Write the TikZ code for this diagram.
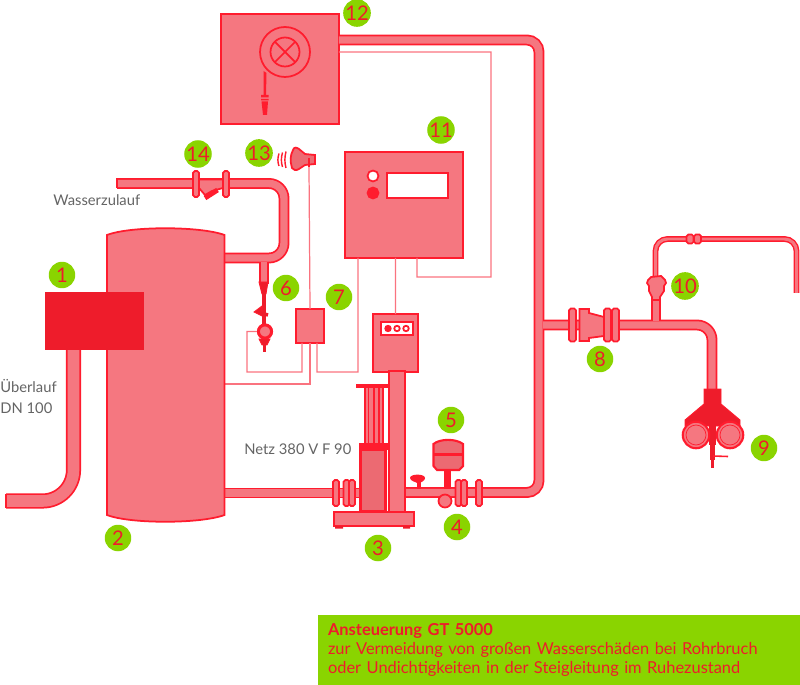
\documentclass[tikz,border=0pt]{standalone}
\usepackage{fontspec}
\setmainfont{Lato}
\usetikzlibrary{positioning, calc, shapes.geometric}
\definecolor{pipered}{RGB}{255,28,46}
\definecolor{pipepink}{RGB}{245,119,128}
\definecolor{pumppink}{RGB}{236,106,114}
\definecolor{solidred}{RGB}{238,28,43}
\definecolor{wirepink}{RGB}{250,115,127}
\definecolor{badgegreen}{RGB}{138,212,0}
\definecolor{labelgray}{RGB}{100,100,100}
\tikzset{
  pipe/.style={draw=pipered, double=pipepink, line width=1pt, double distance=4.2pt},
  thinpipe/.style={draw=pipered, double=pipepink, line width=0.8pt, double distance=1.7pt},
  wire/.style={draw=wirepink, line width=0.7pt},
  panel/.style={
    rectangle, draw=pipered, fill=pipepink, line width=1pt,
    inner sep=0pt, outer sep=0pt
  },
  vessel/.style={draw=pipered, fill=pipepink, line width=1pt},
  darkvessel/.style={draw=pipered, fill=pumppink, line width=1.2pt},
  solid part/.style={draw=pipered, fill=solidred, line width=0.5pt},
  flange/.style={
    panel, rounded corners=1pt, minimum width=0.12cm, minimum height=0.52cm
  },
  bigflange/.style={flange, minimum height=0.66cm, minimum width=0.14cm},
  dot/.style={circle, draw=pipered, line width=1pt, inner sep=0pt, outer sep=0pt},
  badge/.style={
    circle, fill=badgegreen, minimum size=0.53cm, inner sep=0pt,
    text=solidred, font=\fontsize{11.5}{12}\selectfont
  },
  caption/.style={
    text=labelgray, font=\fontsize{8.4}{12}\selectfont, inner sep=0pt, align=left
  },
  notebox/.style={
    rectangle, fill=badgegreen, minimum width=9.64cm, minimum height=1.4cm,
    text=solidred, inner xsep=0.2cm, inner ysep=0pt, text width=9.24cm, align=left,
    font=\fontsize{9.35}{10.9}\selectfont
  }
}

\begin{document}
\begin{tikzpicture}[x=0.02cm, y=-0.02cm]
  \useasboundingbox (0,0) rectangle (800,685);

  % Boxes
  \node[panel, minimum width=2.36cm, minimum height=2.2cm] (box12) at (280,69) {};
  \node[panel, minimum width=2.36cm, minimum height=2.12cm] (box11) at (404,205) {};
  \node[panel, minimum width=0.56cm, minimum height=0.68cm] (box7) at (310,326) {};
  \node[panel, minimum width=0.9cm, minimum height=1.16cm] (ctrl) at (395.5,343) {};
  \coordinate (horn) at (309,167);
  \coordinate (tankwire) at (224,384);
  \node[dot, fill=pipepink, line width=1.2pt, minimum size=0.28cm] (ball6) at (265,331.5) {};

  % Wires
  \draw[wire] ([yshift=-0.76cm]box12.north east) -- (491,52) -- (491,277) -- (417,277)
    -- ([xshift=1.44cm]box11.south west);
  \draw[wire] ([xshift=1.01cm]box11.south west) -- (ctrl.north);
  \draw[wire] ([xshift=0.26cm]box11.south west) -- (358,372) -- (317,372)
    -- ([xshift=0.14cm]box7.south);
  \draw[wire] (box7.north) -- (horn);
  \draw[wire] ([xshift=-0.16cm]box7.south) -- (302,372) -- (247,372) -- (247,331.5) -- (ball6.west);
  \draw[wire] (box7.south) -- (310,384) -- (tankwire);

  % Pipes
  \coordinate (overflow) at (73.5,345);
  \coordinate (tankin) at (224,258);
  \coordinate (tankout) at (224,493);
  \coordinate (riser) at (543,325);
  \draw[pipe, double distance=6.6pt, rounded corners=0.62cm] (overflow) -- (73.5,501) -- (6,501);
  \draw[pipered, line width=1pt] (6,494) -- (6,508);
  \draw[pipe, rounded corners=0.3cm] (117,183.5) -- (284,183.5) -- (284,258) -- (tankin);
  \draw[pipered, line width=1pt] (117,178.5) -- (117,188.5);
  \draw[pipe, double distance=3.2pt] (264,262) -- (264,284);
  \draw[pipe, rounded corners=0.24cm] (box12.east |- 0,40) -- (539,40) -- (539,492.5) -- (405,492.5);
  \draw[pipe] (tankout) -- (365,493);
  \draw[pipe, rounded corners=0.3cm] (riser) -- (712,325) -- (712,392);
  \draw[pipe, double distance=3.4pt] (656,321) -- (656,298);
  \draw[thinpipe, rounded corners=0.24cm] (655.5,277) -- (655.5,239) -- (796.5,239) -- (796.5,293);

  % Tank
  \path[vessel] (107,235) .. controls (130,226) and (200,226) .. (224.5,235) -- (224.5,515)
    .. controls (200,524) and (130,524) .. (107,515) -- cycle;
  \node[rectangle, fill=solidred, minimum width=1.98cm, minimum height=1.16cm,
    inner sep=0pt] (box1) at (94.5,321) {};

  % Panel details
  \node[dot, fill=pipepink, minimum size=1cm] (reel) at (285,52) {};
  \node[dot, fill=pipepink, minimum size=0.58cm] (reelhub) at (285,52) {};
  \draw[pipered, line width=1pt] (reelhub.north west) -- (reelhub.south east)
    (reelhub.north east) -- (reelhub.south west);
  \fill[pipered] (263.5,71) -- (266.5,73) -- (266,95) -- (263.5,95) -- cycle;
  \fill[pipered] (261,95) rectangle (268.5,97.5) (261,99) rectangle (268.5,100.5);
  \fill[pipered] (261.5,101.5) -- (268,101.5) -- (267,115) -- (263,115) -- cycle;
  \node[dot, fill=white, minimum size=0.22cm] (lampon) at (373,176) {};
  \node[dot, fill=pipered, minimum size=0.22cm] (lampoff) at (373,193) {};
  \node[panel, fill=white, minimum width=1.22cm, minimum height=0.5cm] (display) at (417.5,185.5) {};
  \node[panel, fill=white, minimum width=0.64cm, minimum height=0.26cm] (ctrldisplay) at (397,328.5) {};
  \node[dot, fill=pipered, minimum size=0.11cm] (led1) at (388,328.5) {};
  \node[dot, fill=white, minimum size=0.11cm] (led2) at (397,328.5) {};
  \node[dot, fill=white, minimum size=0.11cm] (led3) at (406,328.5) {};

  % Horn
  \path[darkvessel, line width=1pt] (293,150) .. controls (294,147) and (296,147) .. (299,149)
    -- (305,154) -- (315,155) -- (315,164) -- (305,165) -- (299,169)
    .. controls (296,171) and (293,170) .. (292,168) .. controls (290,161) and (290,156) .. (293,150) -- cycle;
  \draw[pipered, line width=1pt] (309,158) -- (horn);
  \draw[pipered, line width=0.8pt] (279,153.5) .. controls (277.5,158) and (277.5,162) .. (279,166)
    (282.5,152.5) .. controls (281,158) and (281,162) .. (282.5,167)
    (286,151.5) .. controls (284.5,158) and (284.5,162) .. (286,168);

  % Valve 14
  \path[vessel] (199,179.5) -- (223,179.5) -- (223,188) -- (212,191) -- (205,195) -- (199,188) -- cycle;
  \draw[pipered, line width=2.8pt] (205,198) -- (217.5,190);
  \node[flange] (fl14a) at (196,184) {};
  \node[flange] (fl14b) at (226,184) {};

  % Valve 6
  \path[solid part] (259,282) -- (268,282) -- (266,294) -- (262,294) -- cycle;
  \draw[solidred, line width=2.6pt] (264,293) -- (264,325);
  \path[solid part] (254,312) -- (262,306) -- (262,316) -- cycle;
  \draw[solidred, line width=2pt] (260,313) -- (268,315);
  \path[solid part] (259,339) -- (270,339) -- (267,345) -- (262,345) -- cycle;
  \draw[solidred, line width=1.6pt] (264.5,344) -- (264.5,352);
  \node[dot, fill=pipepink, line width=1.6pt, minimum size=0.26cm] at (265,331.5) {};

  % Pump
  \node[panel, minimum width=0.32cm, minimum height=2.84cm] (column) at (397,442) {};
  \node[panel, minimum width=1.6cm, minimum height=0.28cm] (base) at (374,519) {};
  \fill[pipered] (356,384) rectangle (389,387.5);
  \path[vessel, line width=0.8pt] (365,387) rectangle (383,444);
  \draw[pipered, line width=0.7pt] (368.5,387) -- (368.5,444) (374,387) -- (374,444) (379,387) -- (379,444);
  \node[rectangle, fill=pipered, minimum width=0.58cm, minimum height=0.14cm, inner sep=0pt] (pumpcap) at (373.5,446.5) {};
  \path[darkvessel, line width=1.6pt] (360.5,450) rectangle (385.5,511);
  \fill[solidred] (335,526) rectangle (343,528.5) (403,526) rectangle (410,528.5);

  % Tank 5, handwheel, gauge
  \fill[pipered] (444,470) rectangle (451,489);
  \path[darkvessel] (433.5,444) .. controls (440,438.5) and (456,438.5) .. (463,444)
    -- (463,466) -- (459,470) -- (437,470) -- (433.5,466) -- cycle;
  \draw[pipered, line width=1.2pt] (433.5,454.5) -- (463,454.5);
  \fill[pipered] (416.5,481) rectangle (420.5,489);
  \fill[pipered] (410,478) .. controls (410,473.5) and (425,473.5) .. (425,478)
    .. controls (425,481) and (421,482) .. (420,483) -- (417,483) .. controls (416,482) and (410,481) .. (410,478) -- cycle;
  \node[dot, fill=pipepink, minimum size=0.26cm] (gauge4) at (445,501) {};
  \draw[wirepink, line width=0.5pt] (443.5,504) -- (447,498.5);

  % Flanges
  \node[flange] (fl3a) at (336,493) {};
  \node[flange] (fl3b) at (346.5,493) {};
  \node[flange] (fl3c) at (352,493) {};
  \node[flange] (fl4a) at (458.5,493) {};
  \node[flange] (fl4b) at (464,493) {};
  \node[flange] (fl4c) at (479,493) {};
  \node[bigflange] (fl8a) at (572.5,325) {};
  \path[vessel] (579.5,309) -- (589,309) -- (589,313) -- (604,317) -- (604,336) -- (589,338) -- (589,341) -- (579.5,341) -- cycle;
  \node[bigflange] (fl8b) at (607.5,325) {};
  \node[bigflange] (fl8c) at (615.5,325) {};
  \node[panel, rounded corners=1pt, minimum width=0.14cm, minimum height=0.18cm] (coupa) at (690,239) {};
  \node[panel, rounded corners=1pt, minimum width=0.14cm, minimum height=0.18cm] (coupb) at (697.5,239) {};

  % Valve 10
  \path[vessel] (651,277) -- (661,276) -- (665,280) -- (666,283) -- (664,286) -- (664,291)
    -- (660,297) -- (660,300) -- (652,300) -- (652,297) -- (649,291) -- (649,286) -- (647,283) -- (648,280) -- cycle;

  % Nozzle 9
  \path[solid part] (704,389) -- (721,389) -- (721,404) -- (740,420) -- (740,426) -- (685,426) -- (685,420) -- (704,404) -- cycle;
  \draw[solidred, line width=4pt] (712.5,424) -- (712.5,445);
  \draw[solidred, line width=2.6pt] (712.5,445) -- (712.5,460);
  \draw[solidred, line width=1.8pt] (712.5,458) -- (712.5,468);
  \draw[pipered, line width=0.9pt] (713,456) -- (728,456.5);
  \node[dot, fill=pipepink, line width=1.2pt, minimum size=0.53cm] (monitorl) at (696,435) {};
  \node[dot, line width=0.4pt, minimum size=0.4cm] at (696,435) {};
  \node[dot, fill=pipepink, line width=1.2pt, minimum size=0.53cm] (monitorr) at (730,435) {};
  \node[dot, line width=0.4pt, minimum size=0.4cm] at (730,435) {};

  % Badges
  \node[badge] (n1) at (62,275) {1};
  \node[badge] (n2) at (118,538) {2};
  \node[badge] (n3) at (378,548) {3};
  \node[badge] (n4) at (457,527) {4};
  \node[badge] (n5) at (451,420) {5};
  \node[badge] (n6) at (286,288) {6};
  \node[badge] (n7) at (339,297) {7};
  \node[badge] (n8) at (600,359) {8};
  \node[badge] (n9) at (764,448) {9};
  \node[badge] (n10) at (685,286) {10};
  \node[badge] (n11) at (441,130) {11};
  \node[badge] (n12) at (357,13) {12};
  \node[badge] (n13) at (259,153) {13};
  \node[badge] (n14) at (198,154) {14};

  % Labels
  \node[caption, anchor=west] (inlet) at (53,200) {Wasserzulauf};
  \node[caption, anchor=west] (outlet) at (0,396.5) {Überlauf\\DN 100};
  \node[caption, anchor=west] (mains) at (244,449) {Netz 380 V F 90};
  \node[notebox] (note) at (559,650)
    {\textbf{Ansteuerung GT 5000}\\zur Vermeidung von großen Wasserschäden bei Rohrbruch\\oder Undichtigkeiten in der Steigleitung im Ruhezustand};
\end{tikzpicture}
\end{document}
